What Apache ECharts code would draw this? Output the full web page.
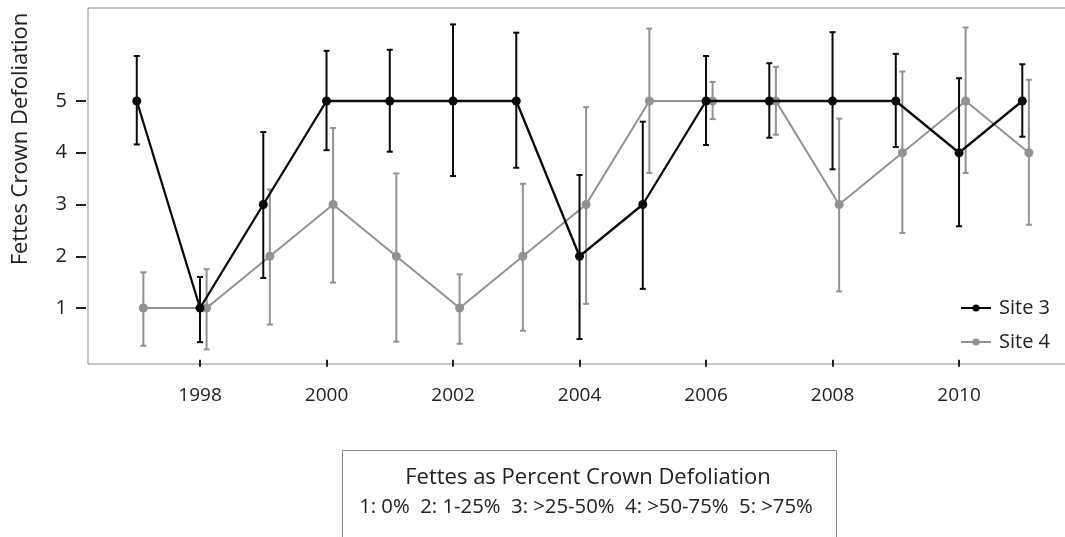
<!DOCTYPE html>
<html>
<head>
<meta charset="utf-8">
<script src="https://cdn.jsdelivr.net/npm/echarts@6/dist/echarts.min.js"></script>
<style>html,body{margin:0;padding:0;background:#fff}#c{width:1065px;height:537px}</style>
</head>
<body>
<div id="c"></div>
<script>
const years = [1997,1998,1999,2000,2001,2002,2003,2004,2005,2006,2007,2008,2009,2010,2011];
const site3 = [5,1,3,5,5,5,5,2,3,5,5,5,5,4,5];
const site3Low  = [4.16,0.34,1.58,4.05,4.02,3.55,3.71,0.40,1.37,4.15,4.29,3.68,4.11,2.58,4.31];
const site3High = [5.87,1.60,4.40,5.97,5.99,6.48,6.32,3.57,4.60,5.87,5.73,6.33,5.91,5.44,5.71];
const site4 = [1,1,2,3,2,1,2,3,5,5,5,3,4,5,4];
const site4Low  = [0.27,0.20,0.68,1.49,0.35,0.31,0.56,1.08,3.61,4.65,4.35,1.32,2.45,3.61,2.61];
const site4High = [1.69,1.75,3.29,4.48,3.60,1.65,3.40,4.88,6.40,5.37,5.66,4.66,5.57,6.42,5.41];
const xTicks = [1998,2000,2002,2004,2006,2008,2010];
const yTicks = [1,2,3,4,5];
const yTitle = 'Fettes Crown Defoliation';
const boxTitle = 'Fettes as Percent Crown Defoliation';
const boxLine = '1: 0%  2: 1-25%  3: >25-50%  4: >50-75%  5: >75%';

const dodge4 = 0.104; // horizontal dodge of Site 4 (years)
const FONT = '"Open Sans", sans-serif';
const C3 = '#0a0a0a', C4 = '#929292';

function errRender(color){
  return function(params, api){
    const x = api.value(0), lo = api.value(1), hi = api.value(2);
    const a = api.coord([x, lo]), b = api.coord([x, hi]);
    const cap = 3;
    const st = {stroke: color, lineWidth: 2};
    return {type:'group', children:[
      {type:'line', shape:{x1:a[0], y1:a[1], x2:b[0], y2:b[1]}, style:st},
      {type:'line', shape:{x1:a[0]-cap, y1:a[1], x2:a[0]+cap, y2:a[1]}, style:st},
      {type:'line', shape:{x1:b[0]-cap, y1:b[1], x2:b[0]+cap, y2:b[1]}, style:st}
    ]};
  };
}

const chart = echarts.init(document.getElementById('c'), null, {renderer:'canvas'});
chart.setOption({
  animation: false,
  backgroundColor: '#fff',
  textStyle: {fontFamily: FONT},
  grid: {left: 88, top: 8, right: -6, bottom: 173, outerBoundsMode: 'none', containLabel: false,
         show: true, borderColor: '#8a8a8a', borderWidth: 1, backgroundColor: 'transparent'},
  xAxis: {
    type: 'value', min: 1996.229, max: 2011.77,
    axisLine: {show: false}, splitLine: {show: false},
    offset: 2,
    axisTick: {show: true, length: 7, lineStyle: {color: '#222', width: 2}, customValues: xTicks},
    axisLabel: {customValues: xTicks, color: '#222', fontSize: 19, fontFamily: FONT, margin: 20, formatter: v => String(v)}
  },
  yAxis: {
    type: 'value', min: -0.082, max: 6.797,
    axisLine: {show: false}, splitLine: {show: false},
    offset: 2,
    axisTick: {show: true, length: 10, lineStyle: {color: '#222', width: 2}, customValues: yTicks},
    axisLabel: {customValues: yTicks, color: '#222', fontSize: 20, fontFamily: FONT, margin: 19, formatter: v => String(v)}
  },
  legend: {
    orient: 'vertical', left: 955, top: 293,
    itemWidth: 30, itemHeight: 9, itemGap: 14,
    textStyle: {color: '#222', fontSize: 20, fontFamily: FONT, padding: [0,0,0,3]},
    data: ['Site 3', 'Site 4']
  },
  series: [
    {type:'custom', name:'err4', renderItem: errRender(C4), z: 2,
     data: years.map((y,i)=>[y+dodge4, site4Low[i], site4High[i]]), silent:true},
    {type:'line', name:'Site 4', z: 3, color: C4,
     data: years.map((y,i)=>[y+dodge4, site4[i]]),
     symbol:'circle', symbolSize: 9, lineStyle:{color:C4, width:2}, itemStyle:{color:C4}},
    {type:'custom', name:'err3', renderItem: errRender(C3), z: 4,
     data: years.map((y,i)=>[y, site3Low[i], site3High[i]]), silent:true},
    {type:'line', name:'Site 3', z: 5, color: C3,
     data: years.map((y,i)=>[y, site3[i]]),
     symbol:'circle', symbolSize: 9, lineStyle:{color:C3, width:2.3}, itemStyle:{color:C3}}
  ],
  graphic: [
    {type:'text', x: 21, y: 139, rotation: Math.PI/2,
     style:{text: yTitle, fill:'#222', font: '22px ' + FONT, align:'center', verticalAlign:'middle'}},
    {type:'rect', shape:{x: 342.5, y: 450.5, width: 494, height: 120},
     style:{fill:'none', stroke:'#8a8a8a', lineWidth:1}},
    {type:'text', x: 588, y: 478,
     style:{text: boxTitle, fill:'#222', font: '22px ' + FONT, align:'center', verticalAlign:'middle'}},
    {type:'text', x: 586, y: 507,
     style:{text: boxLine, fill:'#222', font: '20.3px ' + FONT, align:'center', verticalAlign:'middle'}}
  ]
});
</script>
</body>
</html>
